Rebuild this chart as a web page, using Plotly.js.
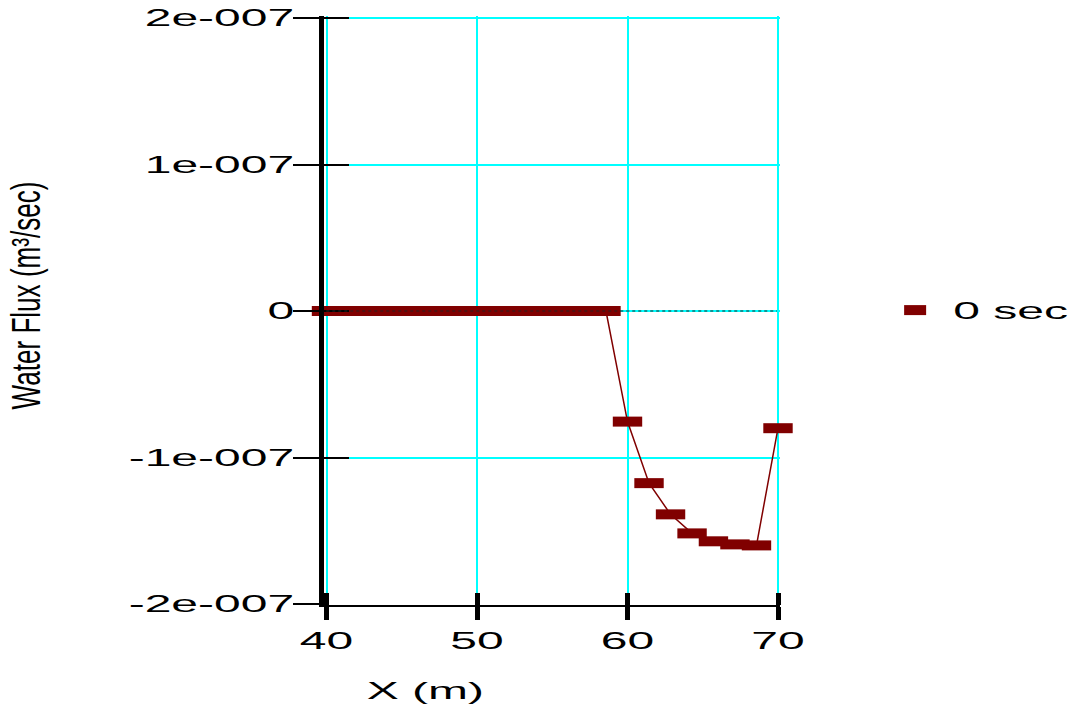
<!DOCTYPE html>
<html>
<head>
<meta charset="utf-8">
<script src="https://cdn.plot.ly/plotly-3.0.1.min.js"></script>
<style>html,body{margin:0;padding:0;background:#fff;}</style>
</head>
<body>
<div id="chart" style="width:1087px;height:708px;"></div>
<script>
// ---- data ----
var xPositions = [40, 41.43, 42.86, 44.29, 45.71, 47.14, 48.57, 50, 51.43, 52.86, 54.29,
                  55.71, 57.14, 58.57, 60, 61.43, 62.86, 64.29, 65.71, 67.14, 68.57, 70];
var fluxValues = [0, 0, 0, 0, 0, 0, 0, 0, 0, 0, 0, 0, 0, 0,
                  -0.755e-7, -1.175e-7, -1.388e-7, -1.518e-7, -1.572e-7, -1.593e-7, -1.600e-7, -0.80e-7];
var seriesName = "0 sec";
var yTickVals = [2e-7, 1e-7, 0, -1e-7, -2e-7];
var yTickText = ["2e-007", "1e-007", "0", "-1e-007", "-2e-007"];
var xTickVals = [40, 50, 60, 70];
var xTickText = ["40", "50", "60", "70"];
var xTitle = "X (m)";
var yTitle = "Water Flux (m³/sec)";

var FONT = "Liberation Sans, Arial, sans-serif";
var RED = "#800000";
var XR = [39.834, 70.133];
var YR = [-2.0068e-7, 2.01365e-7];

var traces = [
  { // connecting line
    type: "scatter", mode: "lines", x: xPositions, y: fluxValues,
    name: seriesName, showlegend: false, cliponaxis: false,
    line: {color: RED, width: 1.5}
  },
  { // rectangular markers
    type: "scatter", mode: "markers", x: xPositions, y: fluxValues,
    name: seriesName, cliponaxis: false,
    marker: {symbol: "line-ew", size: 21, color: RED, line: {color: RED, width: 10}}
  },
  { // carries the overlay axes that draw the inner half of the crossing ticks
    type: "scatter", mode: "none", x: xPositions, y: fluxValues,
    xaxis: "x2", yaxis: "y2", showlegend: false, hoverinfo: "skip"
  }
];

var layout = {
  width: 1087, height: 708,
  margin: {l: 324, r: 307, t: 16, b: 103},
  paper_bgcolor: "#fff", plot_bgcolor: "#fff",
  font: {family: FONT, size: 24, color: "#000"},
  showlegend: true,
  legend: {x: 1.213, xanchor: "left", y: 0.5, yanchor: "middle",
           font: {family: FONT, size: 24, color: "#000"}, itemwidth: 66,
           bgcolor: "rgba(0,0,0,0)"},
  xaxis: {
    range: XR, tickmode: "array", tickvals: xTickVals, ticktext: xTickText,
    showgrid: true, gridcolor: "#00ffff", gridwidth: 2,
    zeroline: false, showline: true, linecolor: "#000", linewidth: 2,
    ticks: "outside", ticklen: 13, tickwidth: 5, tickcolor: "#000",
    tickfont: {family: FONT, size: 24, color: "#000"}
  },
  yaxis: {
    range: YR, tickmode: "array", tickvals: yTickVals, ticktext: yTickText,
    showgrid: true, gridcolor: "#00ffff", gridwidth: 2,
    zeroline: false, showline: true, linecolor: "#000", linewidth: 5,
    ticks: "outside", ticklen: 26, tickwidth: 2, tickcolor: "#000",
    ticklabelstandoff: -6,
    tickfont: {family: FONT, size: 24, color: "#000"},
    title: {text: yTitle, standoff: 160,
            font: {family: FONT, size: 40, color: "#000"}}
  },
  xaxis2: {overlaying: "x", anchor: "y", range: XR, tickmode: "array", tickvals: xTickVals,
           showticklabels: false, showgrid: false, zeroline: false, showline: false,
           ticks: "inside", ticklen: 12, tickwidth: 5, tickcolor: "#000"},
  yaxis2: {overlaying: "y", anchor: "x", side: "left", range: YR, tickmode: "array", tickvals: yTickVals,
           showticklabels: false, showgrid: false, zeroline: false, showline: false,
           ticks: "inside", ticklen: 25, tickwidth: 2, tickcolor: "#000"},
  shapes: [
    {type: "line", xref: "paper", yref: "y", x0: 0, x1: 1, y0: 0, y1: 0,
     line: {color: "#fff", width: 3}, layer: "between"},
    {type: "line", xref: "paper", yref: "y", x0: 0.005, x1: 0.9935, y0: 0, y1: 0,
     line: {color: "#222", width: 1, dash: "dot"}, layer: "above"}
  ],
  annotations: [{text: xTitle, xref: "paper", yref: "paper", x: 0.222, y: -0.145,
                 xanchor: "center", yanchor: "middle", showarrow: false,
                 font: {family: FONT, size: 24, color: "#000"}}]
};

Plotly.newPlot("chart", traces, layout, {staticPlot: true, displayModeBar: false}).then(function (gd) {
  // the reference's lettering is stretched twice as wide as normal
  gd.querySelectorAll(".xtick text, .ytick text, .legendtext, .annotation-text").forEach(function (t) {
    var w = t.getComputedTextLength();
    if (w > 0) {
      t.setAttribute("textLength", (w * 2).toFixed(1));
      t.setAttribute("lengthAdjust", "spacingAndGlyphs");
    }
  });
  // vertical title: tall, condensed lettering, sitting slightly above centre
  var yt = gd.querySelector(".ytitle");
  if (yt) {
    yt.setAttribute("textLength", "228");
    yt.setAttribute("lengthAdjust", "spacingAndGlyphs");
    yt.setAttribute("x", (parseFloat(yt.getAttribute("x")) + 15).toFixed(1));
  }
  // legend: keep stretched text unclipped, draw the symbol as the same block as in the plot
  gd.querySelectorAll(".legend .scrollbox, .legend").forEach(function (g) { g.removeAttribute("clip-path"); });
  gd.querySelectorAll(".legendpoints path.scatterpts").forEach(function (p) {
    p.setAttribute("d", "M-11,0H11");
    p.style.strokeWidth = "10px";
  });
});
</script>
</body>
</html>
